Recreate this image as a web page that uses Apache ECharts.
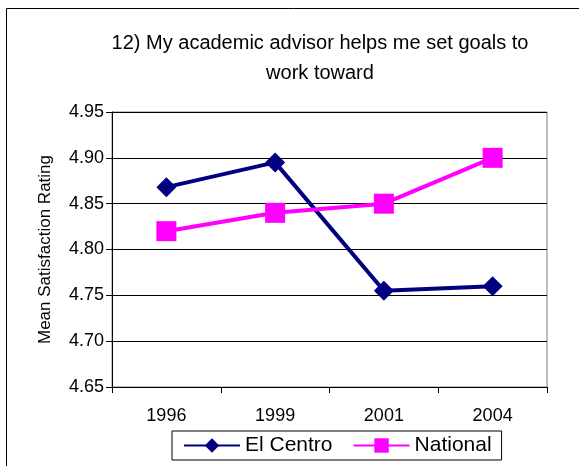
<!DOCTYPE html>
<html>
<head>
<meta charset="utf-8">
<script src="https://cdn.jsdelivr.net/npm/echarts@6/dist/echarts.min.js"></script>
<style>
  html, body { margin: 0; padding: 0; background: #fff; }
  #chart { width: 579px; height: 466px; }
</style>
</head>
<body>
<div id="chart"></div>
<script>
    // values
    var years = ['1996', '1999', '2001', '2004'];
    var elCentro = [4.868, 4.895, 4.755, 4.760];
    var national = [4.82, 4.84, 4.85, 4.90];

    var font = '"Liberation Sans", Arial, sans-serif';

    var mychart = echarts.init(document.getElementById('chart'));
    mychart.setOption({
        animation: false,
        backgroundColor: '#fff',
        title: {
            text: '12) My academic advisor helps me set goals to\nwork toward',
            left: 320,
            top: 28,
            padding: 0,
            textAlign: 'center',
            textStyle: {
                fontFamily: font,
                fontSize: 20,
                fontWeight: 'normal',
                color: '#000',
                lineHeight: 30
            }
        },
        graphic: [{
            type: 'rect',
            shape: { x: 6.5, y: 8.5, width: 620, height: 520 },
            style: { fill: null, stroke: '#000', lineWidth: 1 },
            silent: true
        }],
        grid: {
            left: 112,
            right: 32,
            top: 112,
            bottom: 79,
            show: true,
            borderColor: '#808080',
            borderWidth: 1
        },
        legend: {
            left: 172,
            top: 431,
            padding: [4, 10, 4, 11],
            itemGap: 20,
            itemWidth: 56,
            itemHeight: 18,
            borderColor: '#000',
            borderWidth: 1,
            textStyle: {
                fontFamily: font,
                fontSize: 21,
                color: '#000'
            },
            data: ['El Centro', 'National']
        },
        xAxis: {
            type: 'category',
            data: years,
            boundaryGap: true,
            axisLine: { lineStyle: { color: '#000', width: 1 } },
            axisTick: { show: true, length: 6, lineStyle: { color: '#000' } },
            axisLabel: {
                margin: 20,
                fontFamily: font,
                fontSize: 18,
                color: '#000'
            },
            splitLine: { show: false }
        },
        yAxis: {
            type: 'value',
            min: 4.65,
            max: 4.95,
            interval: 0.05,
            name: 'Mean Satisfaction Rating',
            nameLocation: 'middle',
            nameGap: 58,
            nameTextStyle: {
                fontFamily: font,
                fontSize: 17,
                color: '#000'
            },
            axisLine: { show: true, lineStyle: { color: '#000', width: 1 } },
            axisTick: { show: true, length: 6, lineStyle: { color: '#000' } },
            axisLabel: {
                margin: 8,
                fontFamily: font,
                fontSize: 18,
                color: '#000',
                formatter: function (v) { return v.toFixed(2); }
            },
            splitLine: { show: true, lineStyle: { color: '#000', width: 1 } }
        },
        series: [
            {
                name: 'El Centro',
                type: 'line',
                data: elCentro,
                symbol: 'diamond',
                symbolSize: 20,
                lineStyle: { color: '#000080', width: 4 },
                itemStyle: { color: '#000080' }
            },
            {
                name: 'National',
                type: 'line',
                data: national,
                symbol: 'rect',
                symbolSize: 20,
                lineStyle: { color: '#FF00FF', width: 4 },
                itemStyle: { color: '#FF00FF' }
            }
        ]
    });
</script>
</body>
</html>
